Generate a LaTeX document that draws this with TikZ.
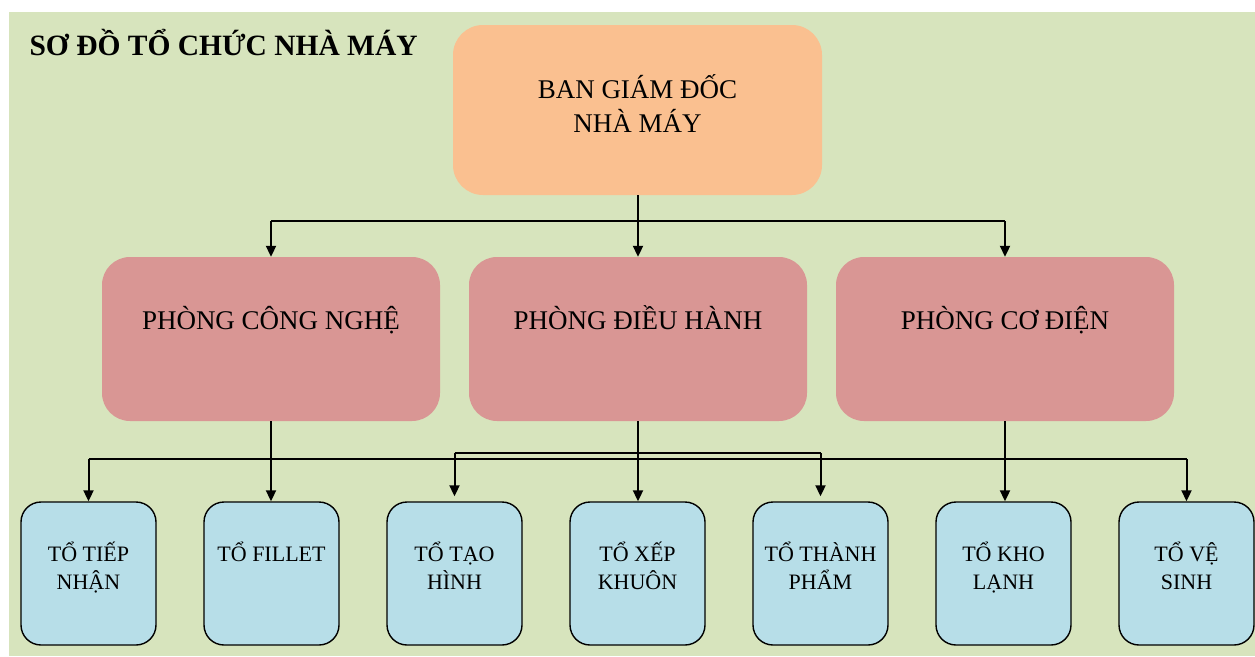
\documentclass[tikz,border=0pt]{standalone}
\usepackage{fontspec}
\setmainfont{Liberation Serif}
\usetikzlibrary{arrows.meta}
\usetikzlibrary{positioning}

\definecolor{nenxanh}{HTML}{D7E4BD}
\definecolor{camnhat}{HTML}{FAC090}
\definecolor{dohong}{HTML}{D99694}
\definecolor{xanhnhat}{HTML}{B7DEE8}

\tikzset{
    bgdbox/.style={fill=camnhat, rounded corners=30pt, minimum width=369pt, minimum height=170pt},
    phongbox/.style={fill=dohong, rounded corners=28pt, minimum width=338pt, minimum height=164pt},
    tobox/.style={draw, line width=1.4pt, fill=xanhnhat, rounded corners=20pt, minimum width=135pt, minimum height=143pt},
    chulon/.style={anchor=base, align=center, font=\fontsize{27}{34}\selectfont},
    chunho/.style={anchor=base, align=center, font=\fontsize{22}{28}\selectfont},
    noi/.style={line width=2pt},
    muiten/.style={line width=2pt, -{Triangle[width=10pt,length=11pt]}}
}

\begin{document}
\begin{tikzpicture}[x=1pt, y=-1pt]
        \useasboundingbox (0,0) rectangle (1255,656);
        % nen
        \fill[nenxanh] (9,12) rectangle (1255,656);
        \node[anchor=base west, font=\bfseries\fontsize{29.5}{31}\selectfont] (tieude) at (26,55) {SƠ ĐỒ TỔ CHỨC NHÀ MÁY};

        % ban giam doc (base = dong cuoi)
        \node[bgdbox] (bgd) at (637.5,110) {};
        \node[chulon] (bgd-chu) at ([yshift=-108pt]bgd.north) {BAN GIÁM ĐỐC\\NHÀ MÁY};

        % cac phong
        \node[phongbox] (pcn) at (271,339) {};
        \node[phongbox] (pdh) at (638,339) {};
        \node[phongbox] (pcd) at (1005,339) {};
        \node[chulon] (pcn-chu) at ([yshift=-73pt]pcn.north) {PHÒNG CÔNG NGHỆ};
        \node[chulon] (pdh-chu) at ([yshift=-73pt]pdh.north) {PHÒNG ĐIỀU HÀNH};
        \node[chulon] (pcd-chu) at ([yshift=-73pt]pcd.north) {PHÒNG CƠ ĐIỆN};

        % cac to
        \foreach \i/\dy/\ten in {1/88/{TỔ TIẾP\\NHẬN}, 2/60/{TỔ FILLET}, 3/88/{TỔ TẠO\\HÌNH}, 4/88/{TỔ XẾP\\KHUÔN},
                             5/88/{TỔ THÀNH\\PHẨM}, 6/88/{TỔ KHO\\LẠNH}, 7/88/{TỔ VỆ\\SINH}} {
            \node[tobox] (t\i) at ({88.5+183*(\i-1)},573.5) {};
            \node[chunho] (t\i-chu) at ([yshift=-\dy pt]t\i.north) {\ten};
        }

        % noi tu ban giam doc
        \coordinate (bus0) at (0,221);
        \draw[noi] (bgd.south) -- (bgd.south |- bus0);
        \draw[noi] (pcn.north |- bus0) -- (pcd.north |- bus0);
        \foreach \p in {pcn,pdh,pcd} {
            \draw[muiten] (\p.north |- bus0) -- (\p.north);
        }

        % noi xuong cac to
        \coordinate (bus1) at (0,459);
        \coordinate (bus2) at (0,453);
        \draw[muiten] (pcn.south) -- (pcn.south |- t2.north);
        \draw[muiten] (pdh.south) -- (pdh.south |- t4.north);
        \draw[muiten] (pcd.south) -- (pcd.south |- t6.north);
        \draw[noi] (t1.north |- bus1) -- (t7.north |- bus1);
        \draw[muiten] (t1.north |- bus1) -- (t1.north);
        \draw[muiten] (t7.north |- bus1) -- (t7.north);
        \draw[noi] (t3.north |- bus2) -- (t5.north |- bus2);
        \draw[muiten] (t3.north |- bus2) -- ([yshift=5pt]t3.north);
        \draw[muiten] (t5.north |- bus2) -- ([yshift=5pt]t5.north);

\end{tikzpicture}
\end{document}
